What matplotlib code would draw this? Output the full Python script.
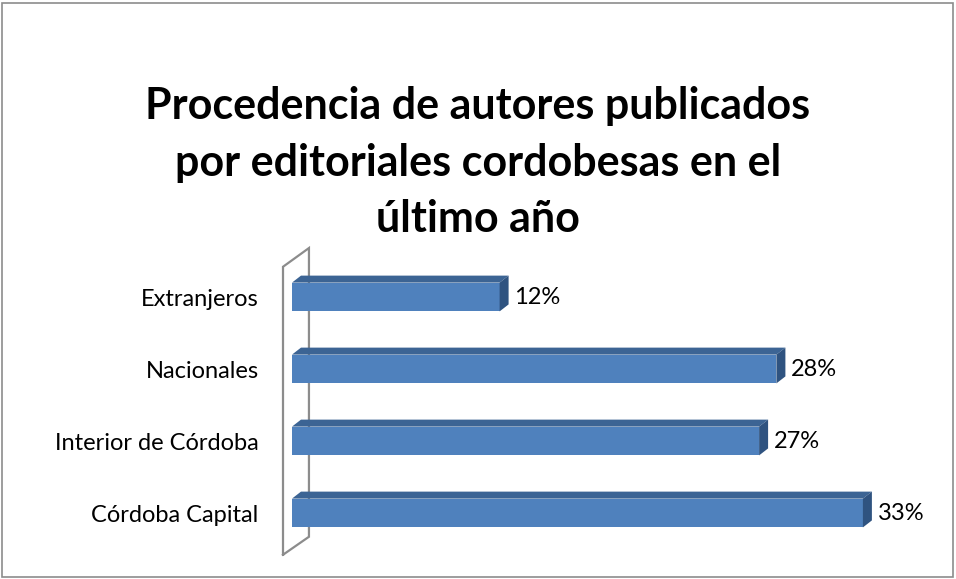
import matplotlib
matplotlib.use("Agg")
import matplotlib.pyplot as plt
from matplotlib.patches import Polygon, Rectangle

categories = ["Córdoba Capital", "Interior de Córdoba", "Nacionales", "Extranjeros"]
values = [33, 27, 28, 12]
value_labels = ["33%", "27%", "28%", "12%"]
title = "Procedencia de autores publicados\npor editoriales cordobesas en el\núltimo año"

W, H = 956, 579
DPI = 100
px_x = 17.3   # pixels per data unit along x
px_y = 72.0   # pixels per category step
front = "#4F81BD"
top_c = "#3C6494"
side_c = "#2F5380"

fig = plt.figure(figsize=(W / DPI, H / DPI), dpi=DPI)
fig.patches.append(Rectangle((2 / W, 2 / H), (W - 5) / W, (H - 5) / H, transform=fig.transFigure,
                             fill=False, edgecolor="#8C8C8C", linewidth=1.2))

x0, x1 = -0.8, 38
y0, y1 = -0.75, 3.8
left_px = 292 + x0 * px_x
bottom_px = 66 + y0 * px_y
ax = fig.add_axes([left_px / W, bottom_px / H, (x1 - x0) * px_x / W, (y1 - y0) * px_y / H])
ax.set_xlim(x0, x1)
ax.set_ylim(y0, y1)
for s in ax.spines.values():
    s.set_visible(False)
ax.set_xticks([])

# back wall outline
wf, wb = -0.52, 0.98
ax.plot([wf, wf, wb, wb, wf], [-0.58, 3.42, 3.68, -0.33, -0.58], color="#8C8C8C", lw=1.6,
        solid_joinstyle="miter", zorder=1)

h = 0.4
dx, dy = 0.52, 0.097
ys = list(range(len(categories)))
ax.barh(ys, values, height=h, color=front, zorder=3)
for y, v, lab in zip(ys, values, value_labels):
    ax.add_patch(Polygon([(0, y + h / 2), (dx, y + h / 2 + dy), (v + dx, y + h / 2 + dy), (v, y + h / 2)],
                         closed=True, facecolor=top_c, edgecolor="none", zorder=3))
    ax.add_patch(Polygon([(v, y - h / 2), (v, y + h / 2), (v + dx, y + h / 2 + dy), (v + dx, y - h / 2 + dy)],
                         closed=True, facecolor=side_c, edgecolor="none", zorder=3))
    ax.annotate(lab, (v + dx, y), xytext=(4, 0), textcoords="offset points",
                ha="left", va="center", fontsize=17, family="Lato", color="#000000")

ax.set_yticks(ys)
ax.set_yticklabels(categories, fontsize=17, family="Lato")
ax.tick_params(axis="y", length=0, pad=14)

fig.text(478 / W, 1 - 163 / H, title, ha="center", va="center", fontsize=31,
         fontweight="bold", family="Lato", linespacing=1.5)

fig.savefig("out.png", dpi=DPI)
